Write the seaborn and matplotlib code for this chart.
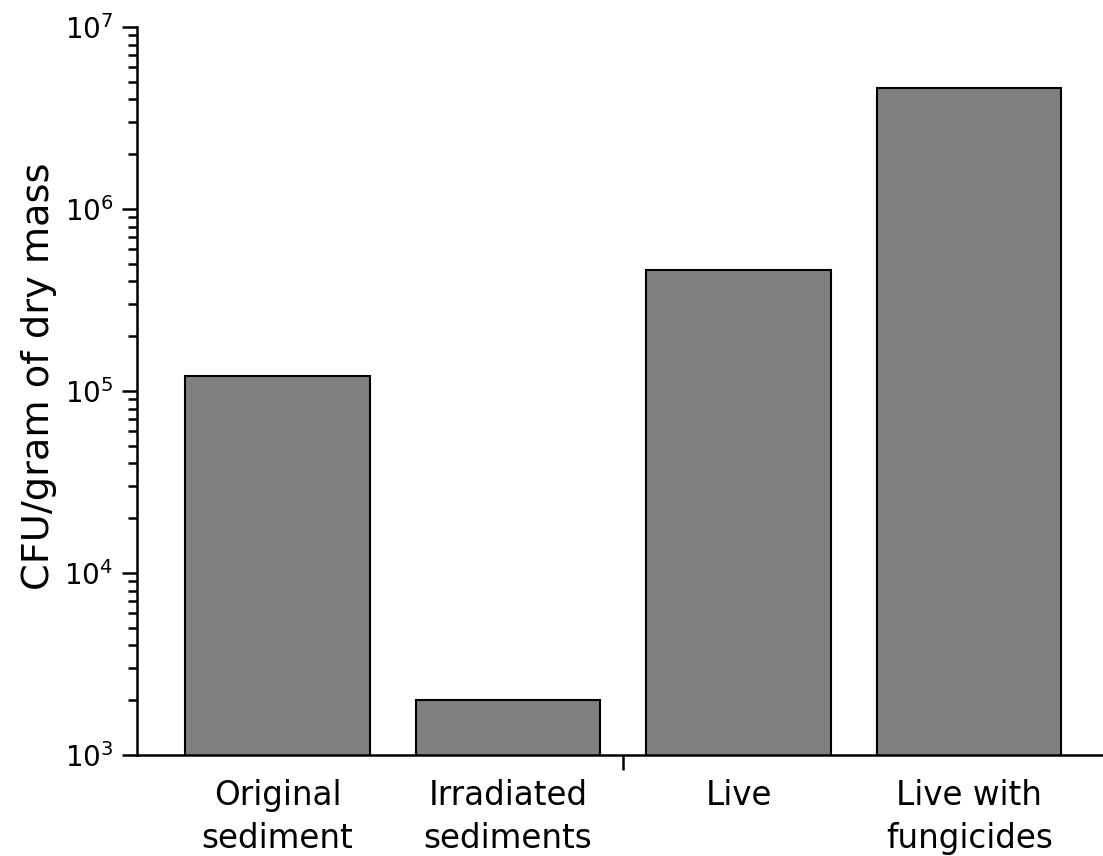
import matplotlib
matplotlib.use('Agg')
import matplotlib.pyplot as plt
import seaborn as sns
import numpy as np
from matplotlib.ticker import LogLocator, FixedLocator

# data
groups = ['Original\nsediment', 'Irradiated\nsediments', 'Live', 'Live with\nfungicides']
cfu = [1.21e5, 2.0e3, 4.62e5, 4.62e6]

sns.set_style('ticks')
plt.rcParams['font.family'] = ['DejaVu Sans']
plt.rcParams['mathtext.fontset'] = 'dejavusans'

fig = plt.figure(figsize=(11.03, 8.56), dpi=100)
ax = fig.add_axes([0.1242, 0.118, 0.8758, 0.8505])

sns.barplot(x=groups, y=cfu, color='#808080', saturation=1,
            edgecolor='black', linewidth=1.5, width=0.8, ax=ax)

ax.set_yscale('log')
ax.set_ylim(1e3, 1e7)
ax.set_xlim(-0.609, 3.58)

ax.yaxis.set_major_locator(LogLocator(base=10, numticks=10))
ax.yaxis.set_minor_locator(LogLocator(base=10, subs=np.arange(2, 10), numticks=20))

ax.xaxis.set_minor_locator(FixedLocator([1.5]))
ax.tick_params(axis='x', which='major', length=0, pad=17, labelsize=23.5, colors='black')
ax.tick_params(axis='x', which='minor', length=11, width=1.8, direction='out', color='black')
ax.tick_params(axis='y', which='major', length=11, width=1.8, direction='out', pad=6, labelsize=20, colors='black')
ax.tick_params(axis='y', which='minor', length=6.5, width=1.8, direction='out', color='black')

for lab in ax.get_xticklabels():
    lab.set_multialignment('center')
    lab.set_linespacing(1.4)

ax.set_ylabel('CFU/gram of dry mass', fontsize=27.5, color='black')
ax.yaxis.set_label_coords(-0.083, 0.52)
ax.set_xlabel('')

for s in ['top', 'right']:
    ax.spines[s].set_visible(False)
for s in ['left', 'bottom']:
    ax.spines[s].set_linewidth(1.8)
    ax.spines[s].set_color('black')

fig.savefig('out.png', dpi=100)
